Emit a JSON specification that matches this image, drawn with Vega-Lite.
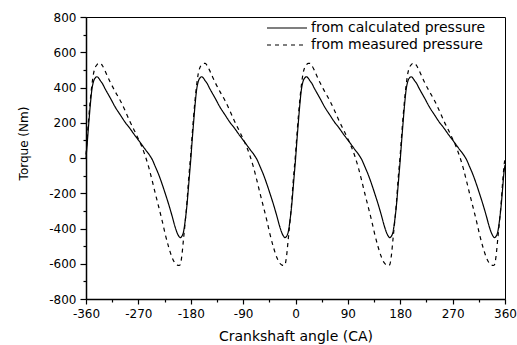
{
  "$schema": "https://vega.github.io/schema/vega-lite/v6.json",
  "width": 419,
  "height": 282,
  "autosize": {"type": "none"},
  "padding": {"left": 86, "top": 17, "right": 12, "bottom": 46},
  "background": "white",
  "config": {
    "view": {"stroke": "black", "strokeWidth": 1},
    "font": "DejaVu Sans",
    "axis": {"grid": false, "domainColor": "black", "tickColor": "black", "labelColor": "black", "titleColor": "black", "labelFont": "DejaVu Sans", "titleFont": "DejaVu Sans", "titleFontWeight": "normal"},
    "legend": {"labelFont": "DejaVu Sans", "labelColor": "black"}
  },
  "datasets": {
    "calc": [
      {"a": -360, "t": 0}, {"a": -358, "t": 80}, {"a": -355, "t": 206}, {"a": -352.5, "t": 305}, {"a": -350, "t": 385}, {"a": -347, "t": 435}, {"a": -344, "t": 455}, {"a": -341, "t": 461}, {"a": -338, "t": 452}, {"a": -335, "t": 437}, {"a": -332, "t": 424}, {"a": -328, "t": 398}, {"a": -324, "t": 374}, {"a": -318, "t": 339}, {"a": -310, "t": 290}, {"a": -301, "t": 244}, {"a": -293, "t": 204}, {"a": -285, "t": 170}, {"a": -276, "t": 128}, {"a": -270, "t": 102}, {"a": -264, "t": 75}, {"a": -258, "t": 48}, {"a": -252, "t": 22}, {"a": -246, "t": -10}, {"a": -241, "t": -48}, {"a": -235, "t": -95}, {"a": -229, "t": -150}, {"a": -224, "t": -200}, {"a": -218, "t": -262}, {"a": -212, "t": -330}, {"a": -207, "t": -390}, {"a": -203, "t": -428}, {"a": -200, "t": -446}, {"a": -198, "t": -452}, {"a": -195.5, "t": -445}, {"a": -192.5, "t": -420}, {"a": -189.5, "t": -355}, {"a": -186.5, "t": -267}, {"a": -184, "t": -170}, {"a": -182, "t": -90},
      {"a": -180, "t": -10}, {"a": -178, "t": 80}, {"a": -175, "t": 206}, {"a": -172.5, "t": 305}, {"a": -170, "t": 385}, {"a": -167, "t": 435}, {"a": -164, "t": 455}, {"a": -161, "t": 461}, {"a": -158, "t": 452}, {"a": -155, "t": 437}, {"a": -152, "t": 424}, {"a": -148, "t": 398}, {"a": -144, "t": 374}, {"a": -138, "t": 339}, {"a": -130, "t": 290}, {"a": -121, "t": 244}, {"a": -113, "t": 204}, {"a": -105, "t": 170}, {"a": -96, "t": 128}, {"a": -90, "t": 102}, {"a": -84, "t": 75}, {"a": -78, "t": 48}, {"a": -72, "t": 22}, {"a": -66, "t": -10}, {"a": -61, "t": -48}, {"a": -55, "t": -95}, {"a": -49, "t": -150}, {"a": -44, "t": -200}, {"a": -38, "t": -262}, {"a": -32, "t": -330}, {"a": -27, "t": -390}, {"a": -23, "t": -428}, {"a": -20, "t": -446}, {"a": -18, "t": -452}, {"a": -15.5, "t": -445}, {"a": -12.5, "t": -420}, {"a": -9.5, "t": -355}, {"a": -6.5, "t": -267}, {"a": -4, "t": -170}, {"a": -2, "t": -90},
      {"a": 0, "t": -10}, {"a": 2, "t": 80}, {"a": 5, "t": 206}, {"a": 7.5, "t": 305}, {"a": 10, "t": 385}, {"a": 13, "t": 435}, {"a": 16, "t": 455}, {"a": 19, "t": 461}, {"a": 22, "t": 452}, {"a": 25, "t": 437}, {"a": 28, "t": 424}, {"a": 32, "t": 398}, {"a": 36, "t": 374}, {"a": 42, "t": 339}, {"a": 50, "t": 290}, {"a": 59, "t": 244}, {"a": 67, "t": 204}, {"a": 75, "t": 170}, {"a": 84, "t": 128}, {"a": 90, "t": 102}, {"a": 96, "t": 75}, {"a": 102, "t": 48}, {"a": 108, "t": 22}, {"a": 114, "t": -10}, {"a": 119, "t": -48}, {"a": 125, "t": -95}, {"a": 131, "t": -150}, {"a": 136, "t": -200}, {"a": 142, "t": -262}, {"a": 148, "t": -330}, {"a": 153, "t": -390}, {"a": 157, "t": -428}, {"a": 160, "t": -446}, {"a": 162, "t": -452}, {"a": 164.5, "t": -445}, {"a": 167.5, "t": -420}, {"a": 170.5, "t": -355}, {"a": 173.5, "t": -267}, {"a": 176, "t": -170}, {"a": 178, "t": -90},
      {"a": 180, "t": -10}, {"a": 182, "t": 80}, {"a": 185, "t": 206}, {"a": 187.5, "t": 305}, {"a": 190, "t": 385}, {"a": 193, "t": 435}, {"a": 196, "t": 455}, {"a": 199, "t": 461}, {"a": 202, "t": 452}, {"a": 205, "t": 437}, {"a": 208, "t": 424}, {"a": 212, "t": 398}, {"a": 216, "t": 374}, {"a": 222, "t": 339}, {"a": 230, "t": 290}, {"a": 239, "t": 244}, {"a": 247, "t": 204}, {"a": 255, "t": 170}, {"a": 264, "t": 128}, {"a": 270, "t": 102}, {"a": 276, "t": 75}, {"a": 282, "t": 48}, {"a": 288, "t": 22}, {"a": 294, "t": -10}, {"a": 299, "t": -48}, {"a": 305, "t": -95}, {"a": 311, "t": -150}, {"a": 316, "t": -200}, {"a": 322, "t": -262}, {"a": 328, "t": -330}, {"a": 333, "t": -390}, {"a": 337, "t": -428}, {"a": 340, "t": -446}, {"a": 342, "t": -452}, {"a": 344.5, "t": -445}, {"a": 347.5, "t": -420}, {"a": 350.5, "t": -355}, {"a": 353.5, "t": -267}, {"a": 356, "t": -170}, {"a": 358, "t": -90}, {"a": 360, "t": -40}
    ],
    "meas": [
      {"a": -360, "t": 20}, {"a": -358, "t": 112}, {"a": -355, "t": 240}, {"a": -352.5, "t": 332}, {"a": -350, "t": 410}, {"a": -347, "t": 480}, {"a": -344, "t": 515}, {"a": -341, "t": 530}, {"a": -338, "t": 537}, {"a": -335, "t": 537}, {"a": -332, "t": 525}, {"a": -328, "t": 500}, {"a": -324, "t": 471}, {"a": -318, "t": 428}, {"a": -310, "t": 378}, {"a": -301, "t": 325}, {"a": -293, "t": 270}, {"a": -285, "t": 210}, {"a": -276, "t": 150}, {"a": -270, "t": 108}, {"a": -264, "t": 64}, {"a": -258, "t": 10}, {"a": -252, "t": -55}, {"a": -246, "t": -132}, {"a": -241, "t": -200}, {"a": -235, "t": -278}, {"a": -229, "t": -358}, {"a": -224, "t": -430}, {"a": -218, "t": -505}, {"a": -212, "t": -565}, {"a": -207, "t": -597}, {"a": -203, "t": -608}, {"a": -200, "t": -610}, {"a": -198, "t": -605}, {"a": -195.5, "t": -560}, {"a": -192.5, "t": -462}, {"a": -189.5, "t": -361}, {"a": -186.5, "t": -250}, {"a": -184, "t": -134}, {"a": -182, "t": -55},
      {"a": -180, "t": 20}, {"a": -178, "t": 112}, {"a": -175, "t": 240}, {"a": -172.5, "t": 332}, {"a": -170, "t": 410}, {"a": -167, "t": 480}, {"a": -164, "t": 515}, {"a": -161, "t": 530}, {"a": -158, "t": 537}, {"a": -155, "t": 537}, {"a": -152, "t": 525}, {"a": -148, "t": 500}, {"a": -144, "t": 471}, {"a": -138, "t": 428}, {"a": -130, "t": 378}, {"a": -121, "t": 325}, {"a": -113, "t": 270}, {"a": -105, "t": 210}, {"a": -96, "t": 150}, {"a": -90, "t": 108}, {"a": -84, "t": 64}, {"a": -78, "t": 10}, {"a": -72, "t": -55}, {"a": -66, "t": -132}, {"a": -61, "t": -200}, {"a": -55, "t": -278}, {"a": -49, "t": -358}, {"a": -44, "t": -430}, {"a": -38, "t": -505}, {"a": -32, "t": -565}, {"a": -27, "t": -597}, {"a": -23, "t": -608}, {"a": -20, "t": -610}, {"a": -18, "t": -605}, {"a": -15.5, "t": -560}, {"a": -12.5, "t": -462}, {"a": -9.5, "t": -361}, {"a": -6.5, "t": -250}, {"a": -4, "t": -134}, {"a": -2, "t": -55},
      {"a": 0, "t": 20}, {"a": 2, "t": 112}, {"a": 5, "t": 240}, {"a": 7.5, "t": 332}, {"a": 10, "t": 410}, {"a": 13, "t": 480}, {"a": 16, "t": 515}, {"a": 19, "t": 530}, {"a": 22, "t": 537}, {"a": 25, "t": 537}, {"a": 28, "t": 525}, {"a": 32, "t": 500}, {"a": 36, "t": 471}, {"a": 42, "t": 428}, {"a": 50, "t": 378}, {"a": 59, "t": 325}, {"a": 67, "t": 270}, {"a": 75, "t": 210}, {"a": 84, "t": 150}, {"a": 90, "t": 108}, {"a": 96, "t": 64}, {"a": 102, "t": 10}, {"a": 108, "t": -55}, {"a": 114, "t": -132}, {"a": 119, "t": -200}, {"a": 125, "t": -278}, {"a": 131, "t": -358}, {"a": 136, "t": -430}, {"a": 142, "t": -505}, {"a": 148, "t": -565}, {"a": 153, "t": -597}, {"a": 157, "t": -608}, {"a": 160, "t": -610}, {"a": 162, "t": -605}, {"a": 164.5, "t": -560}, {"a": 167.5, "t": -462}, {"a": 170.5, "t": -361}, {"a": 173.5, "t": -250}, {"a": 176, "t": -134}, {"a": 178, "t": -55},
      {"a": 180, "t": 20}, {"a": 182, "t": 112}, {"a": 185, "t": 240}, {"a": 187.5, "t": 332}, {"a": 190, "t": 410}, {"a": 193, "t": 480}, {"a": 196, "t": 515}, {"a": 199, "t": 530}, {"a": 202, "t": 537}, {"a": 205, "t": 537}, {"a": 208, "t": 525}, {"a": 212, "t": 500}, {"a": 216, "t": 471}, {"a": 222, "t": 428}, {"a": 230, "t": 378}, {"a": 239, "t": 325}, {"a": 247, "t": 270}, {"a": 255, "t": 210}, {"a": 264, "t": 150}, {"a": 270, "t": 108}, {"a": 276, "t": 64}, {"a": 282, "t": 10}, {"a": 288, "t": -55}, {"a": 294, "t": -132}, {"a": 299, "t": -200}, {"a": 305, "t": -278}, {"a": 311, "t": -358}, {"a": 316, "t": -430}, {"a": 322, "t": -505}, {"a": 328, "t": -565}, {"a": 333, "t": -597}, {"a": 337, "t": -608}, {"a": 340, "t": -610}, {"a": 342, "t": -605}, {"a": 344.5, "t": -560}, {"a": 347.5, "t": -462}, {"a": 350.5, "t": -361}, {"a": 353.5, "t": -250}, {"a": 356, "t": -134}, {"a": 358, "t": -55}, {"a": 360, "t": 0}
    ]
  },
  "layer": [
    {
      "data": {"name": "calc"},
      "mark": {"type": "line", "color": "black", "strokeWidth": 1.2, "interpolate": "monotone"},
      "encoding": {
        "x": {"field": "a", "type": "quantitative", "scale": {"domain": [-360, 360], "nice": false, "zero": false},
          "axis": {"orient": "bottom", "values": [-360, -270, -180, -90, 0, 90, 180, 270, 360], "labelExpr": "'' + datum.value", "tickSize": 5, "labelPadding": 4, "labelFontSize": 12, "domainWidth": 1.5, "tickWidth": 1.2, "title": "Crankshaft angle (CA)", "titleFontSize": 14, "titleY": 30, "titleBaseline": "top", "labelFlush": false}},
        "y": {"field": "t", "type": "quantitative", "scale": {"domain": [-800, 800], "nice": false, "zero": false},
          "axis": {"orient": "left", "values": [-800, -600, -400, -200, 0, 200, 400, 600, 800], "labelExpr": "'' + datum.value", "tickSize": 6, "labelPadding": 4, "labelFontSize": 12, "domainWidth": 1.5, "tickWidth": 1.2, "title": "Torque (Nm)", "titleFontSize": 12, "titleX": -56, "titleY": 126, "titleAngle": -90, "titleBaseline": "bottom", "labelFlush": false}},
        "strokeDash": {"datum": "from calculated pressure", "type": "nominal",
          "scale": {"domain": ["from calculated pressure", "from measured pressure"], "range": [[1, 0], [4, 4]]},
          "legend": {"orient": "none", "legendX": 181, "legendY": 4, "title": null, "symbolType": "M-1.75,0H8.25", "symbolSize": 64, "symbolStrokeWidth": 1.2, "symbolStrokeColor": "black", "symbolFillColor": "transparent", "labelFontSize": 14, "labelOffset": 30, "labelLimit": 400, "rowPadding": 3, "padding": 0}}
      }
    },
    {
      "data": {"name": "meas"},
      "mark": {"type": "line", "color": "black", "strokeWidth": 1.2, "interpolate": "monotone"},
      "encoding": {
        "x": {"field": "a", "type": "quantitative", "axis": null},
        "y": {"field": "t", "type": "quantitative", "axis": null},
        "strokeDash": {"datum": "from measured pressure", "type": "nominal"}
      }
    },
    {
      "data": {"name": "calc"},
      "mark": {"type": "line", "opacity": 0},
      "encoding": {
        "x": {"field": "a", "type": "quantitative",
          "axis": {"orient": "bottom", "values": [-315, -225, -135, -45, 45, 135, 225, 315], "tickSize": 3, "tickWidth": 1.2, "labels": false, "domain": false, "title": null}},
        "y": {"field": "t", "type": "quantitative",
          "axis": {"orient": "left", "values": [-700, -500, -300, -100, 100, 300, 500, 700], "tickSize": 3, "tickWidth": 1.2, "labels": false, "domain": false, "title": null}}
      }
    }
  ],
  "resolve": {"axis": {"x": "independent", "y": "independent"}}
}
